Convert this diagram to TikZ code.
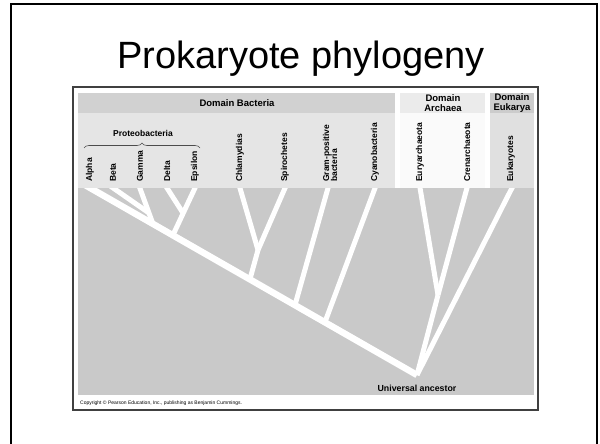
\documentclass[tikz,border=0pt]{standalone}
\usepackage{fontspec}
\setmainfont{Liberation Sans}
\usetikzlibrary{decorations.pathreplacing}
\definecolor{treebg}{gray}{0.79}
\definecolor{bachdr}{gray}{0.82}
\definecolor{baclab}{gray}{0.90}
\definecolor{archdr}{gray}{0.92}
\definecolor{arclab}{gray}{0.98}
\definecolor{euhdr}{gray}{0.80}
\definecolor{eulab}{gray}{0.88}
\begin{document}
\begin{tikzpicture}[x=1pt,y=-1pt,
  lbl/.style={font=\fontsize{8.5}{8}\selectfont\bfseries, inner sep=0pt, rotate=90, anchor=west, align=left},
  hdr/.style={font=\fontsize{9.5}{10}\selectfont\bfseries, inner sep=0pt, align=center},
  branch/.style={draw=white, line width=5pt},
  trunk/.style={draw=white, line width=6.5pt}]
\useasboundingbox (0,0) rectangle (600,444);
\fill[white] (0,0) rectangle (600,444);
% slide border
\draw[line width=2.5pt] (11,470) -- (11,4) -- (597,4) -- (597,470);
% title
\node[font=\fontsize{38}{42}\selectfont, anchor=base, inner sep=0pt] (title) at (301,69) {Prokaryote phylogeny};
% figure frame
\draw[line width=1.2pt, draw=black!75] (73,87) rectangle (538,410);
% bands
\fill[bachdr] (78,93) rectangle (395,113);
\fill[baclab] (78,113) rectangle (395,188);
\fill[archdr] (400,93) rectangle (485,113);
\fill[arclab] (400,113) rectangle (485,188);
\fill[euhdr] (490,93) rectangle (534,113);
\fill[eulab] (490,113) rectangle (534,188);
\fill[treebg] (78,188) rectangle (534,395);
% headers
\node[hdr] (hbac) at (237,103) {Domain Bacteria};
\node[hdr] (harc) at (443,103) {Domain\\Archaea};
\node[hdr] (heuk) at (512,103) {Domain\\Eukarya};
% labels
\node[lbl] (lalpha) at (90,182) {Alpha};
\node[lbl] (lbeta) at (113,182) {Beta};
\node[lbl] (lgamma) at (140,182) {Gamma};
\node[lbl] (ldelta) at (167,182) {Delta};
\node[lbl] (leps) at (195,182) {Epsilon};
\node[lbl] (lchl) at (240,182) {Chlamydias};
\node[lbl] (lspi) at (285,182) {Spirochetes};
\node[lbl] (lgram) at (330,182) {Gram-positive\\bacteria};
\node[lbl] (lcya) at (375,182) {Cyanobacteria};
\node[lbl] (leur) at (420,182) {Euryarchaeota};
\node[lbl] (lcre) at (467,182) {Crenarchaeota};
\node[lbl] (leuk) at (511,182) {Eukaryotes};
% proteobacteria brace
\node[font=\fontsize{8.5}{9}\selectfont\bfseries, inner sep=0pt] (lproteo) at (143,133) {Proteobacteria};
\coordinate (bl) at (84,148);
\coordinate (br) at (200,148);
\draw[decorate, decoration={brace, amplitude=5pt}, line width=0.6pt, draw=black!70] (bl) -- (br);
% tree
\coordinate (root) at (417,375);
\coordinate (alpha) at (81.5,183);
\coordinate (jgam) at (153,224);
\coordinate (gamma) at (138,183);
\coordinate (jbeta) at (149,213);
\coordinate (beta) at (106,183);
\coordinate (jeps) at (173,235);
\coordinate (eps) at (197.3,183);
\coordinate (jdel) at (183,213);
\coordinate (delta) at (163.8,183);
\coordinate (jcs) at (250,279);
\coordinate (kcs) at (258,250);
\coordinate (chl) at (238.5,183);
\coordinate (spi) at (287.2,183);
\coordinate (jgram) at (295,305);
\coordinate (gram) at (329.4,183);
\coordinate (jcya) at (325,322);
\coordinate (cya) at (376.9,183);
\coordinate (jarc) at (438,295);
\coordinate (eur) at (419.2,183);
\coordinate (cre) at (468.3,183);
\coordinate (euk) at (514.5,183);
\begin{scope}
\clip (78,188) rectangle (534,395);
\draw[branch] (jbeta) -- (beta);
\draw[branch] (jgam) -- (gamma);
\draw[branch] (jdel) -- (delta);
\draw[branch] (jeps) -- (eps);
\draw[branch] (kcs) -- (chl);
\draw[branch] (kcs) -- (spi);
\draw[branch] (jcs) -- (kcs);
\draw[branch] (jgram) -- (gram);
\draw[branch] (jcya) -- (cya);
\draw[branch] (jarc) -- (eur);
\draw[branch] (jarc) -- (cre);
\draw[branch] (root) -- (jarc);
\draw[branch] (root) -- (euk);
\draw[trunk] (root) -- (alpha);
\end{scope}
\node[font=\fontsize{8.8}{9}\selectfont\bfseries, inner sep=0pt] (ua) at (417,388) {Universal ancestor};
\node[font=\fontsize{5}{6}\selectfont, anchor=west, inner sep=0pt] (copy) at (80,403) {Copyright \textcopyright\ Pearson Education, Inc., publishing as Benjamin Cummings.};
\end{tikzpicture}
\end{document}
